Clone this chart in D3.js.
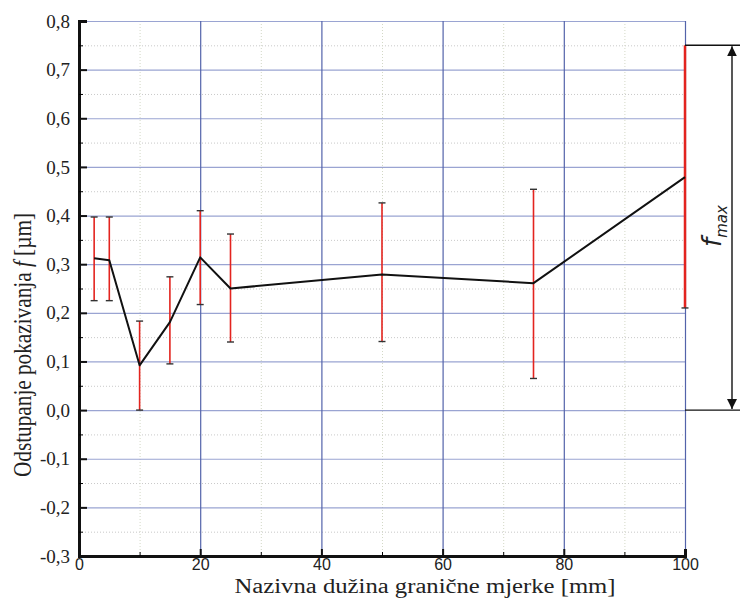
<!DOCTYPE html>
<html>
<head>
<meta charset="utf-8">
<script src="https://cdn.jsdelivr.net/npm/d3@7"></script>
<style>
  html, body { margin: 0; padding: 0; background: #fff; }
  svg { display: block; }
</style>
</head>
<body>
<svg id="chart"></svg>
<script>
// nominal gauge block length [mm]
const SIZES  = [2.5, 5, 10, 15, 20, 25, 50, 75, 100];
// deviation f [µm] and its error range
const DEV    = [0.312, 0.308, 0.092, 0.181, 0.314, 0.250, 0.279, 0.261, 0.479];
const ERR_LO = [0.225, 0.225, 0.000, 0.095, 0.217, 0.140, 0.141, 0.065, 0.210];
const ERR_HI = [0.397, 0.397, 0.183, 0.274, 0.410, 0.362, 0.426, 0.454, 0.750];
const F_MAX  = 0.75;

const X_TICKS = [0, 20, 40, 60, 80, 100];
const X_MINOR = [10, 30, 50, 70, 90];
const Y_TICKS = [-0.3, -0.2, -0.1, 0, 0.1, 0.2, 0.3, 0.4, 0.5, 0.6, 0.7, 0.8];
const Y_MINOR = [-0.25, -0.15, -0.05, 0.05, 0.15, 0.25, 0.35, 0.45, 0.55, 0.65, 0.75];

const W = 740, H = 599;
const X0 = 79, X1 = 685, Y0 = 556, Y1 = 21;
const RED = '#e3241f';
const SERIF = "'Liberation Serif', 'Times New Roman', serif";
const SANS = "'Liberation Sans', Arial, sans-serif";

const svg = d3.select('#chart').attr('width', W).attr('height', H);
svg.append('rect').attr('width', W).attr('height', H).attr('fill', '#fff');

const x = d3.scaleLinear().domain([0, 100]).range([X0, X1]);
const y = d3.scaleLinear().domain([-0.3, 0.8]).range([Y0, Y1]);

const pts = SIZES.map((s, i) => ({ s, v: DEV[i], lo: ERR_LO[i], hi: ERR_HI[i] }));
const fmt = d => d.toFixed(1).replace('.', ',');

// ── Grid ──────────────────────────────────
function grid(axis, tr, stroke, dash, width) {
  const g = svg.append('g').attr('transform', tr).call(axis);
  g.select('.domain').remove();
  g.selectAll('text').remove();
  g.selectAll('line')
    .attr('stroke', stroke)
    .attr('stroke-width', width)
    .attr('stroke-dasharray', dash);
}

grid(d3.axisLeft(y).tickValues(Y_MINOR).tickSize(-(X1 - X0)),
  `translate(${X0},0)`, '#c9c9c9', '1,2', 1);
grid(d3.axisBottom(x).tickValues(X_MINOR).tickSize(-(Y0 - Y1)),
  `translate(0,${Y0})`, '#d3d8c6', '1,2', 1);
grid(d3.axisLeft(y).tickValues(Y_TICKS.filter(v => v > -0.3)).tickSize(-(X1 - X0)),
  `translate(${X0},0)`, '#9aa4d2', null, 1.2);
grid(d3.axisBottom(x).tickValues(X_TICKS.filter(v => v > 0)).tickSize(-(Y0 - Y1)),
  `translate(0,${Y0})`, '#5363aa', null, 1.2);

// ── Error bars ──────────────────────────────────
const bars = svg.append('g').selectAll('g')
  .data(pts)
  .join('g');

bars.append('line')
  .attr('x1', d => x(d.s)).attr('x2', d => x(d.s))
  .attr('y1', d => y(d.lo)).attr('y2', d => y(d.hi))
  .attr('stroke', RED)
  .attr('stroke-width', d => d.s === 100 ? 2.5 : 1.6);

['lo', 'hi'].forEach(k => {
  bars.filter(d => !(k === 'hi' && d.s === 100))
    .append('line')
    .attr('x1', d => x(d.s) - 3.5).attr('x2', d => x(d.s) + 3.5)
    .attr('y1', d => y(d[k])).attr('y2', d => y(d[k]))
    .attr('stroke', '#333').attr('stroke-width', 1.4);
});

// ── Line ──────────────────────────────────
svg.append('path')
  .datum(pts)
  .attr('fill', 'none')
  .attr('stroke', '#111')
  .attr('stroke-width', 2)
  .attr('stroke-linejoin', 'round')
  .attr('d', d3.line().x(d => x(d.s)).y(d => y(d.v)));

// ── Axes ──────────────────────────────────
const yAxis = svg.append('g')
  .attr('transform', `translate(${X0},0)`)
  .call(d3.axisLeft(y).tickValues(Y_TICKS).tickSize(-8).tickPadding(9).tickFormat(fmt));
svg.append('g')
  .attr('transform', `translate(${X0},0)`)
  .call(d3.axisLeft(y).tickValues(Y_MINOR).tickSize(-4).tickFormat(''))
  .select('.domain').remove();
yAxis.select('.domain').attr('stroke', '#111').attr('stroke-width', 2.4);
yAxis.selectAll('.tick line').attr('stroke', '#111').attr('stroke-width', 2);
yAxis.selectAll('text')
  .attr('fill', '#222')
  .style('font-family', SERIF)
  .style('font-size', '19px');

const xAxis = svg.append('g')
  .attr('transform', `translate(0,${Y0})`)
  .call(d3.axisBottom(x).tickValues(X_TICKS).tickSize(-7).tickPadding(3));
svg.append('g')
  .attr('transform', `translate(0,${Y0})`)
  .call(d3.axisBottom(x).tickValues(X_MINOR).tickSize(-4).tickFormat(''))
  .select('.domain').remove();
xAxis.select('.domain').attr('stroke', '#111').attr('stroke-width', 2.4);
xAxis.selectAll('.tick line').attr('stroke', '#111').attr('stroke-width', 2);
xAxis.selectAll('text')
  .attr('fill', '#222')
  .style('font-family', SANS)
  .style('font-size', '16px');
svg.selectAll('.domain').attr('shape-rendering', 'crispEdges');

// ── Axis titles ──────────────────────────────────
svg.append('text')
  .attr('x', 425).attr('y', 593)
  .attr('text-anchor', 'middle')
  .attr('fill', '#222')
  .style('font-family', SERIF)
  .style('font-size', '20px')
  .attr('textLength', 381).attr('lengthAdjust', 'spacingAndGlyphs')
  .text('Nazivna dužina granične mjerke [mm]');

const yt = svg.append('text')
  .attr('transform', 'translate(31,345) rotate(-90)')
  .attr('text-anchor', 'middle')
  .attr('fill', '#222')
  .style('font-family', SERIF)
  .style('font-size', '25px')
  .attr('textLength', 264).attr('lengthAdjust', 'spacingAndGlyphs');
yt.append('tspan').text('Odstupanje pokazivanja ');
yt.append('tspan').style('font-style', 'italic').text(' f ');
yt.append('tspan').text(' [µm]');

// ── f_max annotation ──────────────────────────────────
const AX = 732;
svg.append('defs').append('marker')
  .attr('id', 'arr')
  .attr('viewBox', '0 0 10 10')
  .attr('refX', 10).attr('refY', 5)
  .attr('markerWidth', 10).attr('markerHeight', 10)
  .attr('markerUnits', 'userSpaceOnUse')
  .attr('orient', 'auto-start-reverse')
  .append('path').attr('d', 'M0,0 L10,5 L0,10 Z').attr('fill', '#111');

[F_MAX, 0].forEach(v => {
  svg.append('line')
    .attr('x1', X1).attr('x2', W)
    .attr('y1', y(v)).attr('y2', y(v))
    .attr('stroke', '#111').attr('stroke-width', 1.4);
});
svg.append('line')
  .attr('x1', AX).attr('x2', AX)
  .attr('y1', y(F_MAX) + 1).attr('y2', y(0) - 1)
  .attr('stroke', '#111').attr('stroke-width', 1.4)
  .attr('marker-start', 'url(#arr)')
  .attr('marker-end', 'url(#arr)');

const ft = svg.append('text')
  .attr('transform', `translate(721,226) rotate(-90)`)
  .attr('text-anchor', 'middle')
  .attr('fill', '#222')
  .style('font-family', "'DejaVu Sans', sans-serif")
  .style('font-style', 'italic')
  .style('font-weight', 300);
ft.append('tspan').style('font-size', '26px').text('f');
ft.append('tspan').style('font-size', '15px').attr('dy', 6).text('max');
</script>
</body>
</html>
